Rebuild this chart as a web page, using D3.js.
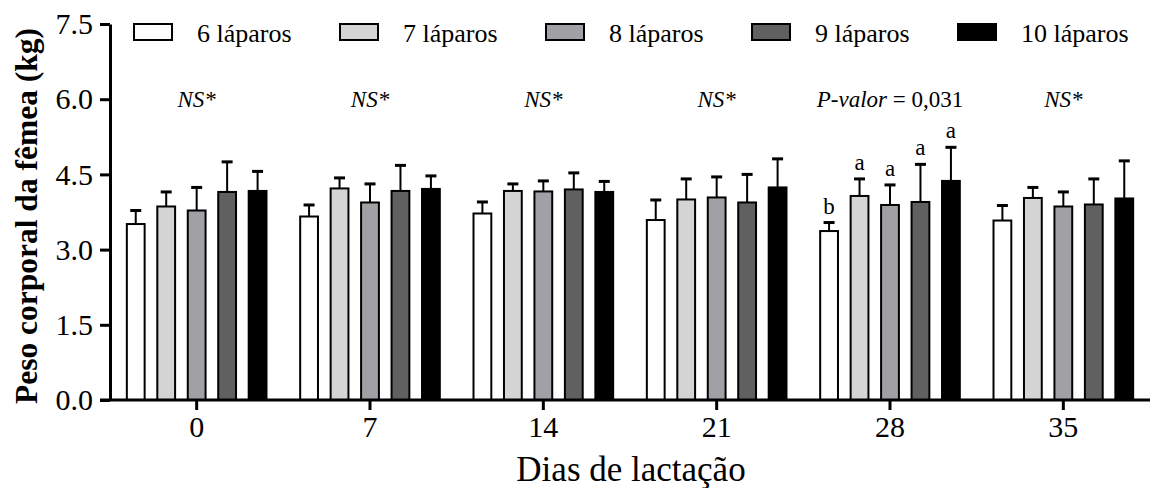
<!DOCTYPE html>
<html>
<head>
<meta charset="utf-8">
<script src="https://cdn.jsdelivr.net/npm/d3@7"></script>
<style>
  body { margin: 0; background: #fff; }
</style>
</head>
<body>
<div id="VizBox"></div>
<script>
// dias de lactação (categorias do eixo x)
var dias = ["0", "7", "14", "21", "28", "35"];
var series = ["6 láparos", "7 láparos", "8 láparos", "9 láparos", "10 láparos"];
var colors = ["#ffffff", "#d4d4d4", "#a1a1a5", "#606060", "#000000"];

// médias por número de láparos (kg)
var mean6  = [3.51, 3.66, 3.72, 3.59, 3.37, 3.58];
var mean7  = [3.86, 4.22, 4.17, 4.00, 4.07, 4.03];
var mean8  = [3.78, 3.94, 4.16, 4.04, 3.89, 3.86];
var mean9  = [4.15, 4.17, 4.20, 3.94, 3.95, 3.90];
var mean10 = [4.17, 4.21, 4.15, 4.24, 4.37, 4.02];

// desvio padrão (só a barra de cima)
var sd6  = [0.27, 0.23, 0.23, 0.40, 0.17, 0.30];
var sd7  = [0.29, 0.21, 0.14, 0.41, 0.34, 0.21];
var sd8  = [0.46, 0.37, 0.21, 0.41, 0.40, 0.29];
var sd9  = [0.60, 0.51, 0.33, 0.56, 0.75, 0.51];
var sd10 = [0.39, 0.26, 0.21, 0.57, 0.67, 0.75];

var yTicks = [0, 1.5, 3.0, 4.5, 6.0, 7.5];
var groupNotes = ["NS*", "NS*", "NS*", "NS*", "P-valor", "NS*"];
var letters28 = ["b", "a", "a", "a", "a"];

var means = [mean6, mean7, mean8, mean9, mean10];
var sds = [sd6, sd7, sd8, sd9, sd10];

var data = [];
dias.forEach(function(d, i) {
  series.forEach(function(s, j) {
    data.push({dia: d, serie: s, k: j, value: means[j][i], sd: sds[j][i]});
  });
});

var FONT = "'Liberation Serif', 'Times New Roman', Times, serif";
var W = 1155, H = 488;
var svg = d3.select("#VizBox")
  .append("svg")
    .attr("width", W)
    .attr("height", H)
    .style("font-family", FONT);

var x0 = d3.scaleBand()
  .domain(dias)
  .range([110, 1150])
  .paddingInner(0)
  .paddingOuter(0);

var x1 = d3.scaleBand()
  .domain(series)
  .range([0, x0.bandwidth()])
  .paddingInner(0.35)
  .paddingOuter(0.52);

var y = d3.scaleLinear()
  .domain([0, 7.5])
  .range([400, 24]);

// barras
svg.append("g").selectAll("rect")
  .data(data)
  .enter()
  .append("rect")
    .attr("x", function(d) { return x0(d.dia) + x1(d.serie) + 1; })
    .attr("y", function(d) { return y(d.value); })
    .attr("width", x1.bandwidth() - 2)
    .attr("height", function(d) { return y(0) - y(d.value); })
    .attr("fill", function(d) { return colors[d.k]; })
    .attr("stroke", "#000")
    .attr("stroke-width", 2);

// barras de erro
var err = svg.append("g").selectAll("g")
  .data(data)
  .enter()
  .append("g");
err.append("line")
  .attr("x1", function(d) { return x0(d.dia) + x1(d.serie) + x1.bandwidth() / 2; })
  .attr("x2", function(d) { return x0(d.dia) + x1(d.serie) + x1.bandwidth() / 2; })
  .attr("y1", function(d) { return y(d.value); })
  .attr("y2", function(d) { return y(d.value + d.sd); })
  .attr("stroke", "#000")
  .attr("stroke-width", 2);
err.append("line")
  .attr("x1", function(d) { return x0(d.dia) + x1(d.serie) + x1.bandwidth() / 2 - 5.5; })
  .attr("x2", function(d) { return x0(d.dia) + x1(d.serie) + x1.bandwidth() / 2 + 5.5; })
  .attr("y1", function(d) { return y(d.value + d.sd); })
  .attr("y2", function(d) { return y(d.value + d.sd); })
  .attr("stroke", "#000")
  .attr("stroke-width", 3);

// letras do dia 28
svg.append("g").selectAll("text")
  .data(data.filter(function(d) { return d.dia === "28"; }))
  .enter()
  .append("text")
    .attr("x", function(d) { return x0(d.dia) + x1(d.serie) + x1.bandwidth() / 2; })
    .attr("y", function(d) { return y(d.value + d.sd) - 9; })
    .attr("text-anchor", "middle")
    .style("font-family", FONT)
    .style("font-size", "23px")
    .text(function(d) { return letters28[d.k]; });

// NS* / P-valor
var notes = svg.append("g").selectAll("text")
  .data(dias)
  .enter()
  .append("text")
    .attr("x", function(d) { return x0(d) + x0.bandwidth() / 2; })
    .attr("y", 107)
    .attr("text-anchor", "middle")
    .style("font-family", FONT)
    .style("font-size", "23px");
notes.each(function(d, i) {
  var t = d3.select(this);
  if (groupNotes[i] === "P-valor") {
    t.append("tspan").style("font-style", "italic").text("P-valor");
    t.append("tspan").text(" = 0,031");
  } else {
    t.style("font-style", "italic").text(groupNotes[i]);
  }
});

// eixo y
var yAxis = svg.append("g")
  .attr("transform", "translate(110,0)")
  .call(d3.axisLeft(y).tickValues(yTicks).tickFormat(d3.format(".1f")).tickSize(10).tickSizeOuter(0).tickPadding(7));
yAxis.attr("font-family", null).attr("font-size", null);
yAxis.select(".domain").attr("stroke-width", 3);
yAxis.selectAll(".tick line").attr("stroke-width", 3);
yAxis.selectAll("text").style("font-family", FONT).style("font-size", "30px");

// eixo x
var xAxis = svg.append("g")
  .attr("transform", "translate(0,400)")
  .call(d3.axisBottom(x0).tickSize(10).tickSizeOuter(0).tickPadding(6));
xAxis.attr("font-family", null).attr("font-size", null);
xAxis.select(".domain").remove();
xAxis.selectAll(".tick line").attr("stroke-width", 3);
xAxis.selectAll("text").style("font-family", FONT).style("font-size", "30px");
svg.append("line")
  .attr("x1", 100).attr("x2", x0.range()[1])
  .attr("y1", y(0)).attr("y2", y(0))
  .attr("stroke", "#000")
  .attr("stroke-width", 3);

// títulos
svg.append("text")
  .attr("x", 631)
  .attr("y", 481)
  .attr("text-anchor", "middle")
  .style("font-family", FONT)
  .style("font-size", "35px")
  .text("Dias de lactação");

svg.append("text")
  .attr("transform", "translate(37,216)rotate(-90)")
  .attr("text-anchor", "middle")
  .style("font-family", FONT)
  .style("font-size", "31.5px")
  .style("font-weight", "bold")
  .text("Peso corporal da fêmea (kg)");

// legenda
var leg = svg.append("g").selectAll("g")
  .data(series)
  .enter()
  .append("g")
    .attr("transform", function(d, i) { return "translate(" + (134 + i * 206) + ",24)"; });
leg.append("rect")
  .attr("width", 38)
  .attr("height", 16)
  .attr("fill", function(d, i) { return colors[i]; })
  .attr("stroke", "#000")
  .attr("stroke-width", 2);
leg.append("text")
  .attr("x", 63)
  .attr("y", 18)
  .style("font-family", FONT)
  .style("font-size", "26px")
  .text(function(d) { return d; });
</script>
</body>
</html>
